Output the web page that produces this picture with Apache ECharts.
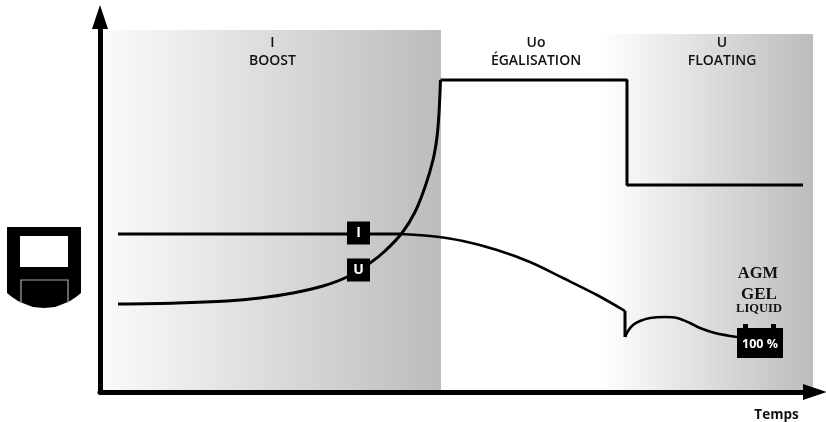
<!DOCTYPE html>
<html>
<head>
<meta charset="utf-8">
<style>html,body{margin:0;padding:0;background:#fff}#c{width:826px;height:422px}</style>
<script src="https://cdn.jsdelivr.net/npm/echarts@6/dist/echarts.min.js"></script>
</head>
<body>
<div id="c"></div>
<script>
// Values: [time, level] in chart units (origin at the axes' crossing)
const voltageRamp = [[18,88],[77,89],[127,91],[160,94],[193,99],[223,106],[247,115],[270,129],[285,141],[302,159],[315,180],[325,205],[333,232],[337,255],[339,279],[340.5,312]];
const voltageHold = [[340.5,312],[527,312],[527,207],[703,207]];
const currentFlat = [[18,158],[300,158]];
const currentFall = [[300,158],[330,156],[363,151],[397,142],[430,130],[463,114],[497,97],[525,81]];
const currentDrop = [[525,81],[525,55]];
const currentBump = [[525,55],[528,61],[533,67],[540,71],[550,74],[565,75],[577,74],[590,69],[600,64],[615,59],[637,55]];
const bandBoost = [0,341,362];
const bandFloat = [500,713,358];
const markerI = [[258.5,159]];
const markerU = [[258.5,122]];
const phases = [["I\nBOOST",272.5,52],["Uo\nÉGALISATION",536,52],["U\nFLOATING",722,52]];
const batteryTypes = ["AGM","GEL","LIQUID"];
const xName = "Temps";
const batteryLabel = "100 %";

const chart = echarts.init(document.getElementById('c'));
const grad = (a,b)=>({type:'linear',x:0,y:0,x2:1,y2:0,colorStops:[{offset:0,color:a},{offset:1,color:b}]});
const lineS = (data,w)=>({type:'line',data,showSymbol:false,symbol:'none',lineStyle:{color:'#000',width:w||3},silent:true,z:3});
const smoothS = (data,w)=>Object.assign(lineS(data,w),{smooth:0.33});
const box = (data,t)=>({type:'scatter',data,symbol:'rect',symbolSize:23,itemStyle:{color:'#000',opacity:1},z:5,silent:true,
  label:{show:true,position:'inside',formatter:t,color:'#fff',fontFamily:'Open Sans',fontWeight:700,fontSize:14}});
const axisBase = {type:'value',z:10,splitLine:{show:false},axisTick:{show:false},axisLabel:{show:false},
  axisLine:{onZero:false,lineStyle:{color:'#000',width:5},symbol:['none','triangle'],symbolSize:[16,24]}};
chart.setOption({
  animation:false,
  grid:{left:100,top:17,width:715,height:375},
  xAxis:Object.assign({min:0,max:715},axisBase),
  yAxis:Object.assign({min:0,max:375},axisBase),
  series:[
    Object.assign(smoothS(voltageRamp),{markArea:{silent:true,z:1,data:[
      [{xAxis:bandBoost[0],yAxis:0,itemStyle:{color:grad('#fbfbfb','#bbbcbe')}},{xAxis:bandBoost[1],yAxis:bandBoost[2]}],
      [{xAxis:bandFloat[0],yAxis:0,itemStyle:{color:grad('#ffffff','#bbbcbe')}},{xAxis:bandFloat[1],yAxis:bandFloat[2]}]
    ]}}),
    lineS(voltageHold),
    lineS(currentFlat),
    smoothS(currentFall,2.6),
    lineS(currentDrop),
    smoothS(currentBump,2.6),
    box(markerI,'I'),
    box(markerU,'U')
  ],
  graphic:[
    ...phases.map(p=>({type:'text',z:10,x:p[1],y:p[2],style:{text:p[0],align:'center',verticalAlign:'middle',
      fontFamily:'Open Sans',fontWeight:600,fontSize:14,lineHeight:18,fill:'#111'}})),
    {type:'text',z:10,x:776.5,y:415,style:{text:xName,align:'center',verticalAlign:'middle',fontFamily:'Open Sans',fontWeight:700,fontSize:13.5,fill:'#111'}},
    {type:'text',z:10,x:758,y:274,style:{text:batteryTypes[0],align:'center',verticalAlign:'middle',fontFamily:'Liberation Serif',fontWeight:700,fontSize:16.5,fill:'#111'}},
    {type:'text',z:10,x:759,y:295,style:{text:batteryTypes[1],align:'center',verticalAlign:'middle',fontFamily:'Liberation Serif',fontWeight:700,fontSize:17,fill:'#111'}},
    {type:'text',z:10,x:759,y:309,style:{text:batteryTypes[2],align:'center',verticalAlign:'middle',fontFamily:'Liberation Serif',fontWeight:700,fontSize:12.5,fill:'#111'}},
    {type:'rect',z:9,shape:{x:737,y:328,width:46,height:30},style:{fill:'#000'}},
    {type:'rect',z:9,shape:{x:743,y:324,width:5,height:5},style:{fill:'#000'}},
    {type:'rect',z:9,shape:{x:771,y:324,width:5,height:5},style:{fill:'#000'}},
    {type:'text',z:10,x:760,y:344,style:{text:batteryLabel,align:'center',verticalAlign:'middle',fontFamily:'Open Sans',fontWeight:700,fontSize:12.5,fill:'#fff'}},
    {type:'polygon',z:9,shape:{points:[[7,227],[81,227],[81,293],[76,297],[70,301],[63,304],[55,307],[44,308],[33,307],[25,304],[18,301],[12,297],[7,293]]},style:{fill:'#000'}},
    {type:'rect',z:10,shape:{x:20,y:236,width:48,height:31},style:{fill:'#fff'}},
    {type:'polyline',z:10,shape:{points:[[21,303],[21,280],[68,280],[68,303]]},style:{stroke:'#aaa',lineWidth:1.2,fill:null}}
  ]
});
</script>
</body>
</html>
